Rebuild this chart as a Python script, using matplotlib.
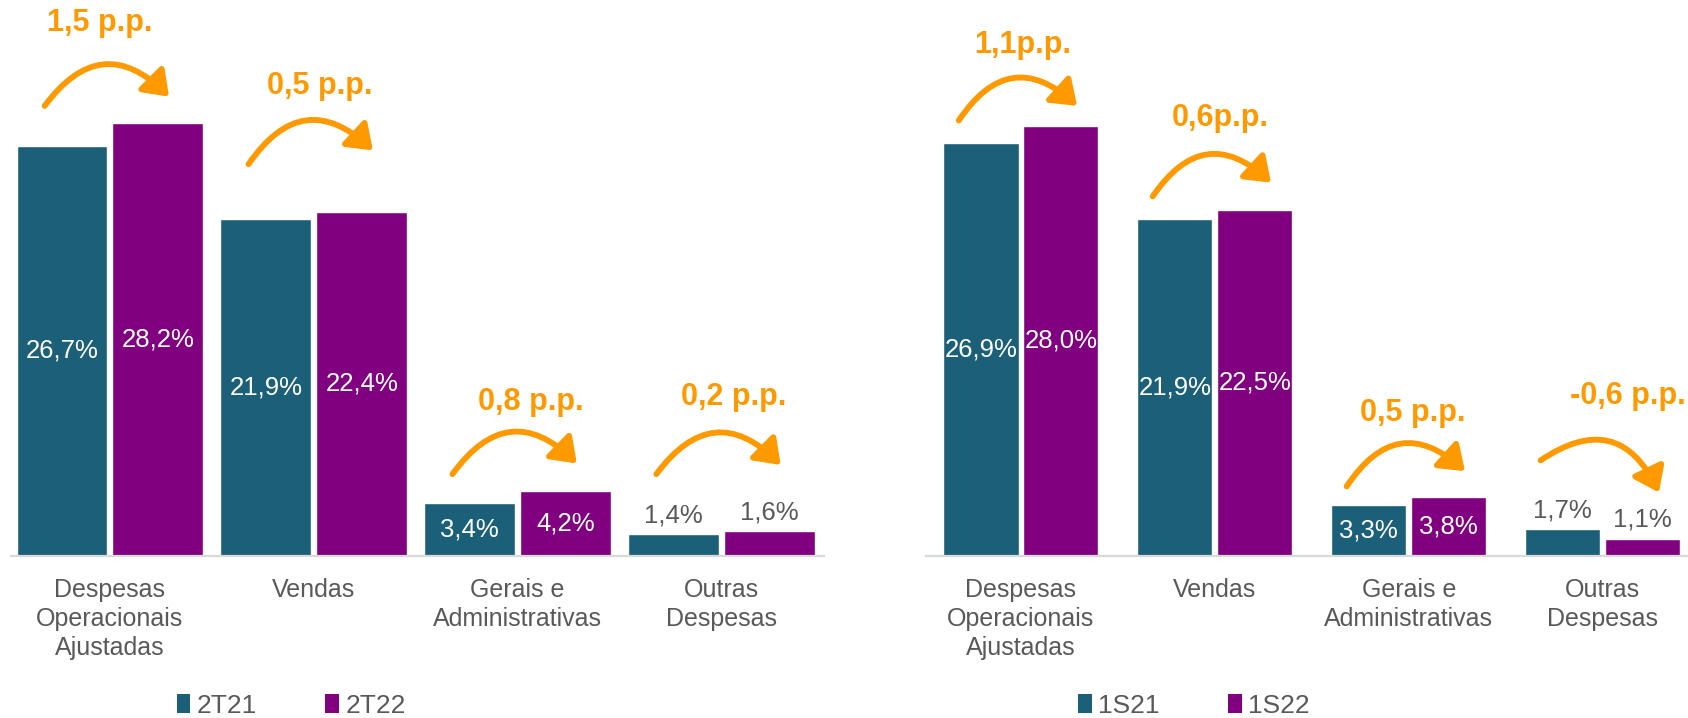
import matplotlib
matplotlib.use('Agg')
import matplotlib.pyplot as plt
from matplotlib.patches import Patch

plt.rcParams['font.family'] = ['Liberation Sans', 'DejaVu Sans']

# dados
categorias = ['Despesas\nOperacionais\nAjustadas', 'Vendas',
              'Gerais e\nAdministrativas', 'Outras\nDespesas']
tri_2t21 = [26.7, 21.9, 3.4, 1.4]
tri_2t22 = [28.2, 22.4, 4.2, 1.6]
sem_1s21 = [26.9, 21.9, 3.3, 1.7]
sem_1s22 = [28.0, 22.5, 3.8, 1.1]
delta_tri = ['1,5 p.p.', '0,5 p.p.', '0,8 p.p.', '0,2 p.p.']
delta_sem = ['1,1p.p.', '0,6p.p.', '0,5 p.p.', '-0,6 p.p.']

AZUL = '#1C5F78'
ROXO = '#800080'
LARANJA = '#FF9900'
CINZA = '#595959'

# posicao das setas (y inicio, y fim, y texto, deslocamento x do texto)
setas_tri = dict(y0=[29.3, 25.5, 5.3, 5.3], y1=[29.9, 26.4, 6.0, 5.9],
                 yt=[34.7, 30.6, 10.0, 10.3], dx=[-0.05, 0.03, 0.065, 0.06])
setas_sem = dict(y0=[28.35, 23.4, 4.5, 6.2], y1=[29.3, 24.3, 5.5, 4.1],
                 yt=[33.3, 28.5, 9.3, 10.4], dx=[0.01, 0.03, 0.02, 0.13])


def fmt(v):
    return f'{v:.1f}%'.replace('.', ',')


def painel(ax, s1, s2, nomes, deltas, setas, largura, off, xlim, leg_x):
    x = list(range(len(categorias)))
    ax.bar([i - off for i in x], s1, width=largura, color=AZUL, edgecolor='white', linewidth=1)
    ax.bar([i + off for i in x], s2, width=largura, color=ROXO, edgecolor='white', linewidth=1)

    for serie, sinal in ((s1, -1), (s2, 1)):
        for i, v in enumerate(serie):
            if v >= 2:
                ax.text(i + sinal * off, v / 2, fmt(v), ha='center', va='center',
                        color='white', fontsize=18.5)
            else:
                ax.text(i + sinal * off, v + 0.45, fmt(v), ha='center', va='bottom',
                        color=CINZA, fontsize=18.5)

    # setas curvas laranja
    for i in x:
        ax.annotate('', xy=(i + 0.29, setas['y1'][i]), xytext=(i - 0.32, setas['y0'][i]),
                    arrowprops=dict(arrowstyle='-|>,head_length=0.55,head_width=0.4',
                                    connectionstyle='arc3,rad=-0.58', color=LARANJA,
                                    lw=4.2, mutation_scale=26, shrinkA=0, shrinkB=0))
        ax.text(i + setas['dx'][i], setas['yt'][i], deltas[i], ha='center', va='center',
                color=LARANJA, fontsize=22, fontweight='bold')

    ax.set_xlim(*xlim)
    ax.set_ylim(0, 36.2)
    ax.set_xticks(x)
    ax.set_xticklabels(categorias, fontsize=18, color=CINZA, linespacing=1.27)
    ax.tick_params(axis='x', length=0, pad=16)
    ax.set_yticks([])
    for lado in ('top', 'left', 'right'):
        ax.spines[lado].set_visible(False)
    ax.spines['bottom'].set_color('#D9D9D9')
    ax.spines['bottom'].set_linewidth(1.6)

    handles = [Patch(facecolor=AZUL, label=nomes[0]), Patch(facecolor=ROXO, label=nomes[1])]
    ax.legend(handles=handles, loc='center', bbox_to_anchor=(leg_x, -0.27), ncol=2,
              frameon=False, fontsize=19, handlelength=0.5, handleheight=0.7,
              handletextpad=0.25, columnspacing=2.6, labelcolor=CINZA)


fig = plt.figure(figsize=(16.88, 7.18), dpi=100)
ax1 = fig.add_axes([10.8 / 1688, 0.2263, 812.7 / 1688, 0.7737])
ax2 = fig.add_axes([925.8 / 1688, 0.2263, 762.2 / 1688, 0.7737])
ax2.patch.set_alpha(0)

painel(ax1, tri_2t21, tri_2t22, ['2T21', '2T22'], delta_tri, setas_tri,
       0.445, 0.235, (-0.486, 3.5), 0.345)
painel(ax2, sem_1s21, sem_1s22, ['1S21', '1S22'], delta_sem, setas_sem,
       0.388, 0.206, (-0.49, 3.44), 0.352)

fig.savefig('out.png', dpi=100)
